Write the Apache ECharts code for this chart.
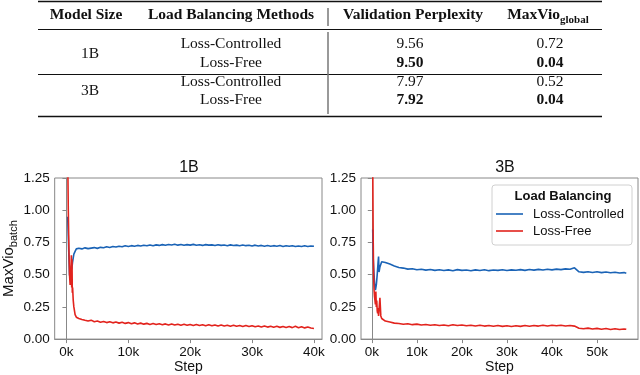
<!DOCTYPE html>
<html>
<head>
<meta charset="utf-8">
<script src="https://cdn.jsdelivr.net/npm/echarts@6/dist/echarts.min.js"></script>
<style>
  html, body { margin: 0; padding: 0; background: #fff; }
  #chart { width: 640px; height: 375px; }
</style>
</head>
<body>
<div id="chart"></div>
<script>
// table data
const tableHeader = ['Model Size', 'Load Balancing Methods', 'Validation Perplexity', 'MaxVio'];
const modelSizes = ['1B', '3B'];
const methods = ['Loss-Controlled', 'Loss-Free'];
const perplexity = [['9.56', '9.50'], ['7.97', '7.92']];
const maxVioGlobal = [['0.72', '0.04'], ['0.52', '0.04']];

// curves, steps in thousands
const steps1B = [0.2,0.3,0.4,0.5,0.6,0.7,0.8,0.85,0.9,0.95,1.0,1.1,1.2,1.4,1.6,1.8,2.0,
  2.5,3,3.5,4,4.5,5,5.5,6,6.5,7,7.5,8,8.5,9,9.5,10,10.5,11,11.5,12,12.5,13,13.5,14,14.5,15,15.5,16,16.5,17,17.5,18,18.5,19,19.5,20,
  20.5,21,21.5,22,22.5,23,23.5,24,24.5,25,25.5,26,26.5,27,27.5,28,28.5,29,29.5,30,30.5,31,31.5,32,32.5,33,33.5,34,34.5,35,35.5,36,36.5,37,37.5,38,38.5,39,39.5,40];
const controlled1B = [0.95,0.80,0.64,0.50,0.47,0.52,0.57,0.54,0.56,0.58,0.60,0.63,0.66,0.68,0.70,0.69,0.705,
  .700,.708,.702,.706,.710,.704,.712,.709,.716,.711,.718,.714,.720,.716,.724,.719,.725,.721,.727,.722,.728,.724,.730,.725,.731,.727,.733,.728,.734,.730,.736,.729,.734,.728,.733,.729,
  .735,.728,.732,.727,.733,.729,.731,.726,.732,.727,.730,.725,.731,.726,.729,.724,.730,.725,.728,.723,.729,.722,.727,.721,.726,.720,.725,.721,.726,.719,.724,.720,.725,.718,.723,.719,.724,.718,.723,.720];
const free1B = [1.45,1.00,0.70,0.50,0.42,0.50,0.65,0.40,0.62,0.36,0.40,0.30,0.25,0.19,0.17,0.16,0.16,
  .152,.146,.141,.147,.135,.140,.131,.137,.128,.134,.126,.132,.124,.131,.122,.128,.119,.126,.117,.124,.116,.122,.114,.121,.113,.119,.112,.118,.110,.117,.109,.116,.108,.115,.107,.114,
  .106,.113,.105,.112,.104,.111,.103,.110,.102,.109,.101,.108,.100,.107,.099,.106,.098,.105,.097,.104,.096,.102,.094,.101,.093,.100,.092,.099,.091,.098,.090,.097,.089,.099,.088,.096,.087,.094,.086,.082];

const steps3B = [0.2,0.3,0.4,0.5,0.6,0.7,0.8,0.9,1.0,1.1,1.2,1.3,1.4,1.5,1.6,1.7,1.8,2.0,2.2,2.5,3,
  4,5,6,7,8,9,10,11,12,13,14,15,16,17,18,19,20,21,22,23,24,25,26,27,28,29,30,
  31,32,33,34,35,36,37,38,39,40,41,42,43,44,45,46,47,48,49,50,51,52,53,54,55,56,56.5];
const controlled3B = [0.85,0.63,0.56,0.50,0.44,0.40,0.38,0.40,0.42,0.46,0.50,0.55,0.60,0.64,0.52,0.54,0.56,0.58,0.60,0.605,0.595,
  .582,.568,.556,.551,.543,.546,.538,.542,.535,.540,.533,.538,.532,.537,.531,.539,.533,.536,.530,.537,.532,.538,.531,.536,.533,.538,.532,
  .537,.534,.539,.533,.540,.535,.541,.536,.542,.537,.543,.539,.545,.542,.553,.522,.518,.523,.517,.522,.516,.521,.515,.519,.513,.516,.511];
const free3B = [1.40,0.80,0.50,0.38,0.33,0.30,0.27,0.37,0.25,0.30,0.22,0.20,0.24,0.18,0.19,0.17,0.32,0.18,0.16,0.15,0.14,
  .132,.124,.121,.115,.119,.112,.116,.109,.113,.107,.111,.106,.110,.104,.112,.105,.109,.103,.108,.102,.107,.101,.106,.100,.105,.099,.104,
  .098,.103,.099,.105,.100,.106,.101,.107,.102,.108,.103,.107,.102,.106,.101,.084,.080,.085,.078,.083,.077,.082,.075,.080,.074,.079,.076];

const xTicks1B = [0, 10, 20, 30, 40];
const xTicks3B = [0, 10, 20, 30, 40, 50];

const BLUE = '#1a63b6';
const RED = '#e2231d';
const SANS = 'Liberation Sans, Arial, sans-serif';
const SERIF = 'Liberation Serif, Times New Roman, serif';

function pairs(xs, ys) {
  return xs.map((x, i) => [x, ys[i]]);
}

function xAxisOf(idx, min, max, ticks) {
  return {
    type: 'value', gridIndex: idx, min: min, max: max,
    name: 'Step', nameLocation: 'middle', nameGap: 17,
    nameTextStyle: { fontSize: 14, color: '#111', fontFamily: SANS },
    axisLine: { show: true, lineStyle: { color: '#888' } },
    axisTick: { show: true, length: 4, lineStyle: { color: '#888' }, customValues: ticks },
    axisLabel: { fontSize: 13.5, color: '#111', fontFamily: SANS, margin: 6, customValues: ticks,
      formatter: v => v + 'k' },
    splitLine: { show: false }
  };
}

function yAxisOf(idx, withName) {
  const ax = {
    type: 'value', gridIndex: idx, min: 0, max: 1.25, interval: 0.25,
    axisLine: { show: true, lineStyle: { color: '#888' } },
    axisTick: { show: true, length: 4, lineStyle: { color: '#888' } },
    axisLabel: { fontSize: 13.5, color: '#111', fontFamily: SANS, margin: 5,
      formatter: v => v.toFixed(2) },
    splitLine: { show: false }
  };
  if (withName) {
    ax.name = '{a|MaxVio}{b|batch}';
    ax.nameLocation = 'middle';
    ax.nameGap = 32;
    ax.nameTextStyle = {
      color: '#111', fontFamily: SANS,
      rich: {
        a: { fontSize: 15, fontFamily: SANS, color: '#111', lineHeight: 15, verticalAlign: 'middle' },
        b: { fontSize: 11, fontFamily: SANS, color: '#111', lineHeight: 22, verticalAlign: 'bottom' }
      }
    };
  }
  return ax;
}

function lineSeries(name, color, xi, data) {
  return {
    name: name, type: 'line', xAxisIndex: xi, yAxisIndex: xi,
    data: data, showSymbol: false, symbol: 'none', clip: true,
    lineStyle: { width: 1.6, color: color }, itemStyle: { color: color }
  };
}

// table drawn with graphic elements
const tableEls = [];
function rule(y, w) {
  tableEls.push({ type: 'line', shape: { x1: 38, y1: y, x2: 602, y2: y },
    style: { stroke: '#111', lineWidth: w } });
}
function cell(txt, x, y, bold) {
  tableEls.push({ type: 'text', style: { text: txt, x: x, y: y, align: 'center', verticalAlign: 'middle',
    fontFamily: SERIF, fontSize: 15.5, fontWeight: bold ? 'bold' : 'normal', fill: '#111' } });
}
rule(1.5, 1.6); rule(29.5, 1); rule(74.5, 1); rule(116.5, 1.6);
tableEls.push({ type: 'line', shape: { x1: 328, y1: 8, x2: 328, y2: 26 }, style: { stroke: '#777', lineWidth: 1.5 } });
tableEls.push({ type: 'line', shape: { x1: 328, y1: 32, x2: 328, y2: 114 }, style: { stroke: '#777', lineWidth: 1.5 } });
cell(tableHeader[0], 86, 15, true);
cell(tableHeader[1], 231, 15, true);
cell(tableHeader[2], 413, 15, true);
tableEls.push({ type: 'text', style: {
  text: '{a|' + tableHeader[3] + '}{b|global}', x: 548, y: 15, align: 'center', verticalAlign: 'middle',
  rich: {
    a: { fontFamily: SERIF, fontSize: 15.5, fontWeight: 'bold', fill: '#111', lineHeight: 15, verticalAlign: 'middle' },
    b: { fontFamily: SERIF, fontSize: 11, fontWeight: 'bold', fill: '#111', lineHeight: 22, verticalAlign: 'bottom' }
  } } });
const rowY = [[44, 63], [82, 100]];
modelSizes.forEach((m, i) => {
  cell(m, 90, (rowY[i][0] + rowY[i][1]) / 2, false);
  methods.forEach((me, j) => {
    const y = rowY[i][j];
    cell(me, 231, y, false);
    cell(perplexity[i][j], 410, y, j === 1);
    cell(maxVioGlobal[i][j], 550, y, j === 1);
  });
});

// legend frame + title
const legendEls = [
  { type: 'rect', shape: { x: 492, y: 185, width: 140, height: 60, r: 3 }, z: 50,
    style: { fill: 'rgba(255,255,255,0.9)', stroke: '#d0d0d0', lineWidth: 1 } },
  { type: 'text', z: 51, style: { text: 'Load Balancing', x: 563, y: 196, align: 'center', verticalAlign: 'middle',
    fontFamily: SANS, fontSize: 13, fontWeight: 'bold', fill: '#111' } }
];

const chart = echarts.init(document.getElementById('chart'), null, { renderer: 'canvas' });
chart.setOption({
  animation: false,
  backgroundColor: '#fff',
  title: [
    { text: '1B', left: 184, top: 155, textAlign: 'center',
      textStyle: { fontSize: 16, fontWeight: 'normal', color: '#111', fontFamily: SANS } },
    { text: '3B', left: 500, top: 155, textAlign: 'center',
      textStyle: { fontSize: 16, fontWeight: 'normal', color: '#111', fontFamily: SANS } }
  ],
  grid: [
    { left: 47, width: 275, top: 178, height: 165, show: true, borderColor: '#888', borderWidth: 1, backgroundColor: 'transparent' },
    { left: 361, width: 277, top: 178, height: 165, show: true, borderColor: '#888', borderWidth: 1, backgroundColor: 'transparent' }
  ],
  xAxis: [xAxisOf(0, -1.9, 41.3, xTicks1B), xAxisOf(1, -2.4, 59.1, xTicks3B)],
  yAxis: [yAxisOf(0, true), yAxisOf(1, false)],
  legend: {
    data: ['Loss-Controlled', 'Loss-Free'], orient: 'vertical', left: 496, top: 207, z: 60,
    icon: 'rect', itemWidth: 27, itemHeight: 1.6, itemGap: 3, padding: 0,
    textStyle: { fontSize: 13, color: '#111', fontFamily: SANS, lineHeight: 14, padding: [0, 0, 0, 5] }
  },
  graphic: tableEls.concat(legendEls),
  series: [
    lineSeries('Loss-Controlled', BLUE, 0, pairs(steps1B, controlled1B)),
    lineSeries('Loss-Free', RED, 0, pairs(steps1B, free1B)),
    lineSeries('Loss-Controlled', BLUE, 1, pairs(steps3B, controlled3B)),
    lineSeries('Loss-Free', RED, 1, pairs(steps3B, free3B))
  ]
});
</script>
</body>
</html>
